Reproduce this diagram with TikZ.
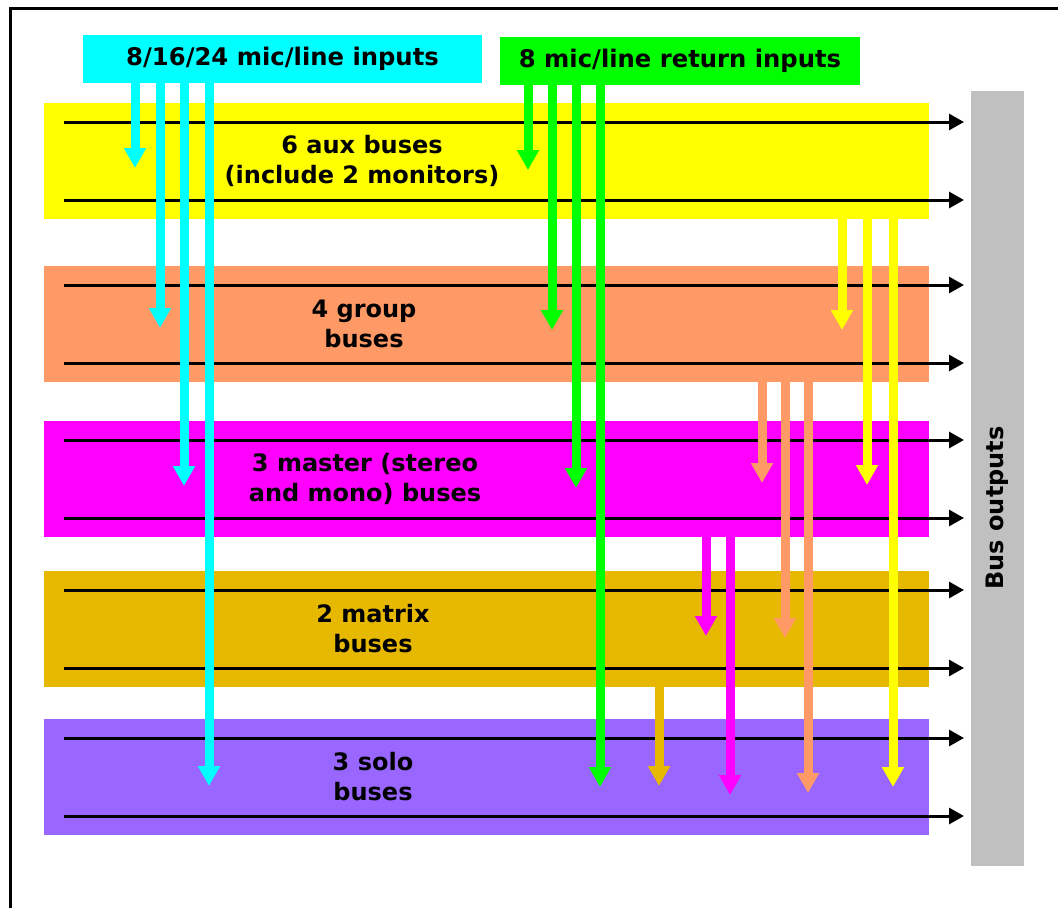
\documentclass[tikz,border=0pt]{standalone}
\usepackage{fontspec}
\setmainfont{DejaVu Sans}
\usetikzlibrary{arrows.meta}
\definecolor{inpcyan}{HTML}{00FFFF}
\definecolor{retgreen}{HTML}{00FF00}
\definecolor{auxyellow}{HTML}{FFFF00}
\definecolor{grporange}{HTML}{FF9966}
\definecolor{mstmagenta}{HTML}{FF00FF}
\definecolor{mtxgold}{HTML}{E6B800}
\definecolor{solopurple}{HTML}{9966FF}
\definecolor{outgray}{HTML}{C0C0C0}
\begin{document}
\begin{tikzpicture}[x=0.75pt, y=-0.75pt,
        band/.style={anchor=north west, minimum width=663.75pt, minimum height=87pt, inner sep=0pt, outer sep=0pt},
        inbox/.style={minimum height=36pt, inner sep=0pt, outer sep=0pt, font=\bfseries\fontsize{18.2}{22.5}\selectfont},
        lbl/.style={align=center, inner sep=0pt, font=\bfseries\fontsize{18}{22.5}\selectfont},
        busline/.style={line width=2.25pt, -{Triangle[width=12pt, length=11.25pt]}},
        feed/.style={line width=6.75pt, -{Triangle[width=15.75pt, length=15pt]}}]
        \useasboundingbox (0,0) rectangle (1058,908);
        \draw[line width=2.25pt] (10,908) |- (1058,8.5);

        \node[inbox, fill=inpcyan, minimum width=299.25pt] (mic) at (282.5,59) {8/16/24 mic/line inputs};
        \node[inbox, fill=retgreen, minimum width=270pt] (ret) at (680,61) {8 mic/line return inputs};
        \node[anchor=north west, fill=outgray, minimum width=39.75pt, minimum height=581.25pt, inner sep=0pt] (outs) at (971,91) {};
        \node[lbl, rotate=90] (outstxt) at (997,508) {Bus outputs};

        \foreach \b/\top/\c in {aux/103/auxyellow, grp/266/grporange, mst/421/mstmagenta, mtx/571/mtxgold, solo/719/solopurple}
                \node[band, fill=\c] (\b) at (44,\top) {};

        \node[lbl] (auxtxt) at (362,161) {6 aux buses\\(include 2 monitors)};
        \node[lbl] (grptxt) at (364,323.5) {4 group\\buses};
        \node[lbl] (msttxt) at (365,479) {3 master (stereo\\and mono) buses};
        \node[lbl] (mtxtxt) at (373,629) {2 matrix\\buses};
        \node[lbl] (solotxt) at (373,777) {3 solo\\buses};

        \foreach \b in {aux, grp, mst, mtx, solo} {
                \coordinate (\b top) at ([shift={(20,19)}]\b.north west);
                \coordinate (\b bot) at ([shift={(20,-19)}]\b.south west);
                \draw[busline, shorten >=5.25pt] (\b top) -- (\b top -| outs.west);
                \draw[busline, shorten >=5.25pt] (\b bot) -- (\b bot -| outs.west);
        }

        \foreach \x/\b/\d in {135/aux/65, 160/grp/62, 184/mst/65, 209/solo/67}
                \draw[feed, inpcyan] (mic.south -| \x,0) -- ([shift={(0,\d)}]\b.north -| \x,0);
        \foreach \x/\b/\d in {528/aux/67, 552/grp/64, 576/mst/67, 600/solo/68}
                \draw[feed, retgreen] (ret.south -| \x,0) -- ([shift={(0,\d)}]\b.north -| \x,0);
        \foreach \x/\b/\d in {842/grp/64, 867/mst/64, 893/solo/68}
                \draw[feed, auxyellow] (aux.south -| \x,0) -- ([shift={(0,\d)}]\b.north -| \x,0);
        \foreach \x/\b/\d in {762/mst/62, 785/mtx/67, 808/solo/74}
                \draw[feed, grporange] (grp.south -| \x,0) -- ([shift={(0,\d)}]\b.north -| \x,0);
        \foreach \x/\b/\d in {706/mtx/65, 730/solo/76}
                \draw[feed, mstmagenta] (mst.south -| \x,0) -- ([shift={(0,\d)}]\b.north -| \x,0);
        \draw[feed, mtxgold] (mtx.south -| 659,0) -- ([shift={(0,67)}]solo.north -| 659,0);
\end{tikzpicture}
\end{document}
